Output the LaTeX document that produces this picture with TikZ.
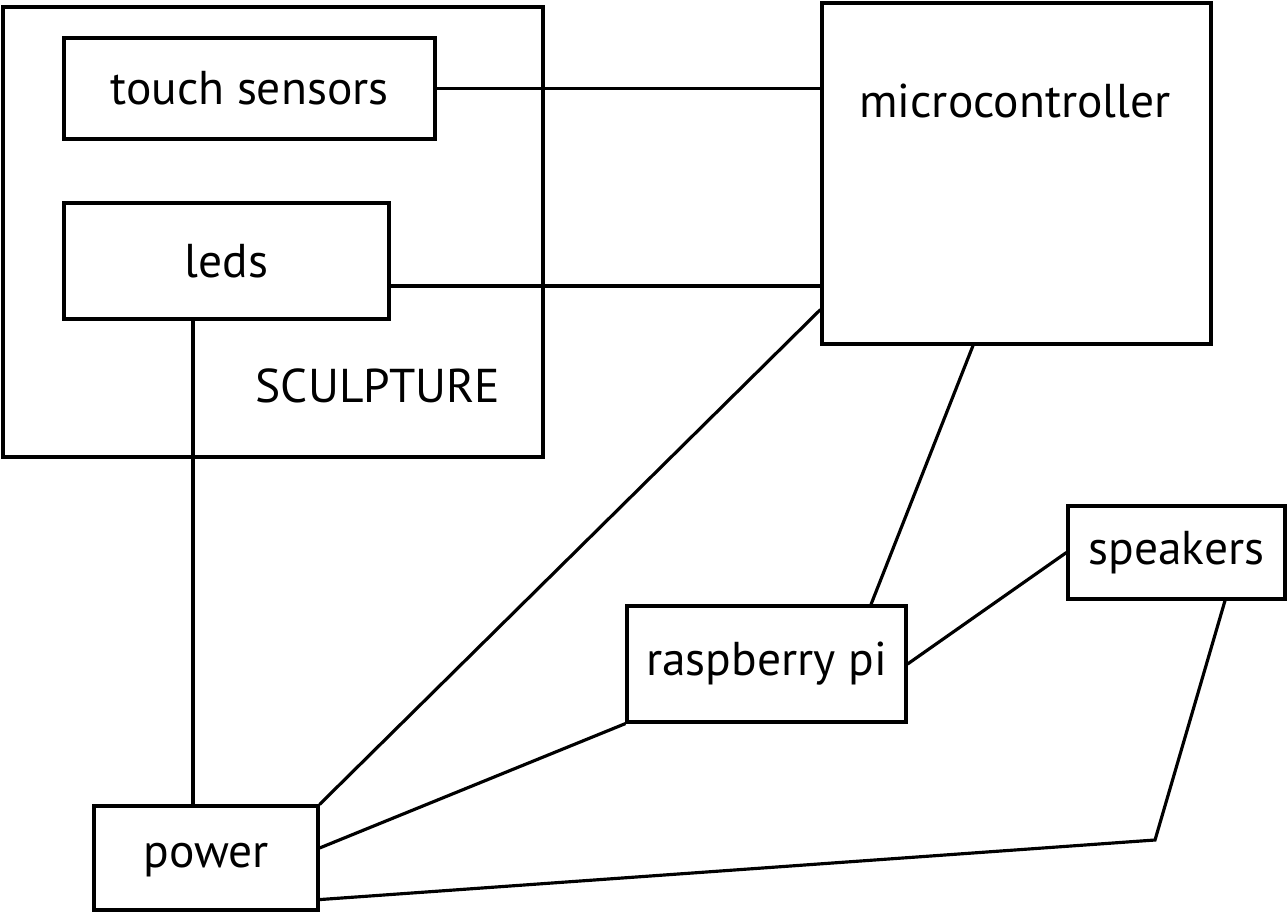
\documentclass[tikz,border=0pt]{standalone}
\usepackage{fontspec}
\setmainfont{PT Sans}
\usetikzlibrary{positioning,calc}

\begin{document}
\begin{tikzpicture}[
    blk/.style={draw, line width=1.8pt, inner sep=0pt},
    wire/.style={line width=1.8pt},
    lbl/.style={font=\fontsize{27}{32}\selectfont}
  ]
    \useasboundingbox (0,0) rectangle (25.76,-18.28);
    % sculpture with its parts
    \node[blk, minimum width=10.8cm, minimum height=9.0cm] (sculpt) at (5.46,-4.64) {};
    \node[lbl] (sculptlbl) at (7.56,-7.72) {SCULPTURE};
    \node[blk, lbl, minimum width=7.42cm, minimum height=2.02cm] (touch) at (4.99,-1.77) {touch sensors};
    \node[blk, lbl, minimum width=6.5cm, minimum height=2.32cm] (leds) at (4.53,-5.22) {leds};
    % electronics
    \node[blk, minimum width=7.78cm, minimum height=6.82cm] (mcu) at (20.33,-3.47) {};
    \node[lbl] (mculbl) at (20.3,-2.02) {microcontroller};
    \node[blk, lbl, minimum width=4.34cm, minimum height=1.86cm] (spk) at (23.53,-11.05) {speakers};
    \node[blk, lbl, minimum width=5.58cm, minimum height=2.32cm] (rpi) at (15.33,-13.28) {raspberry pi};
    \node[blk, lbl, minimum width=4.48cm, minimum height=2.08cm, text depth=0.1cm] (power) at (4.12,-17.16) {power};
    \coordinate (bend) at (23.1,-16.8);

    \draw[wire] (touch.east) -- (touch.east -| mcu.west);
    \draw[wire] ([yshift=-0.5cm]leds.east) -- ([yshift=-0.5cm]leds.east -| mcu.west);
    \draw[wire] ([xshift=-0.67cm]leds.south) -- ([xshift=-0.67cm]leds.south |- power.north);
    \draw[wire] ([yshift=0.72cm]mcu.south west) -- (power.north east);
    \draw[wire] ([xshift=-0.87cm]mcu.south) -- ([xshift=2.09cm]rpi.north);
    \draw[wire] (rpi.east) -- (spk.west);
    \draw[wire] (rpi.south west) -- ([yshift=0.2cm]power.east);
    \draw[wire] ([xshift=0.97cm]spk.south) -- (bend) -- ([yshift=0.24cm]power.south east);
  \end{tikzpicture}
\end{document}
